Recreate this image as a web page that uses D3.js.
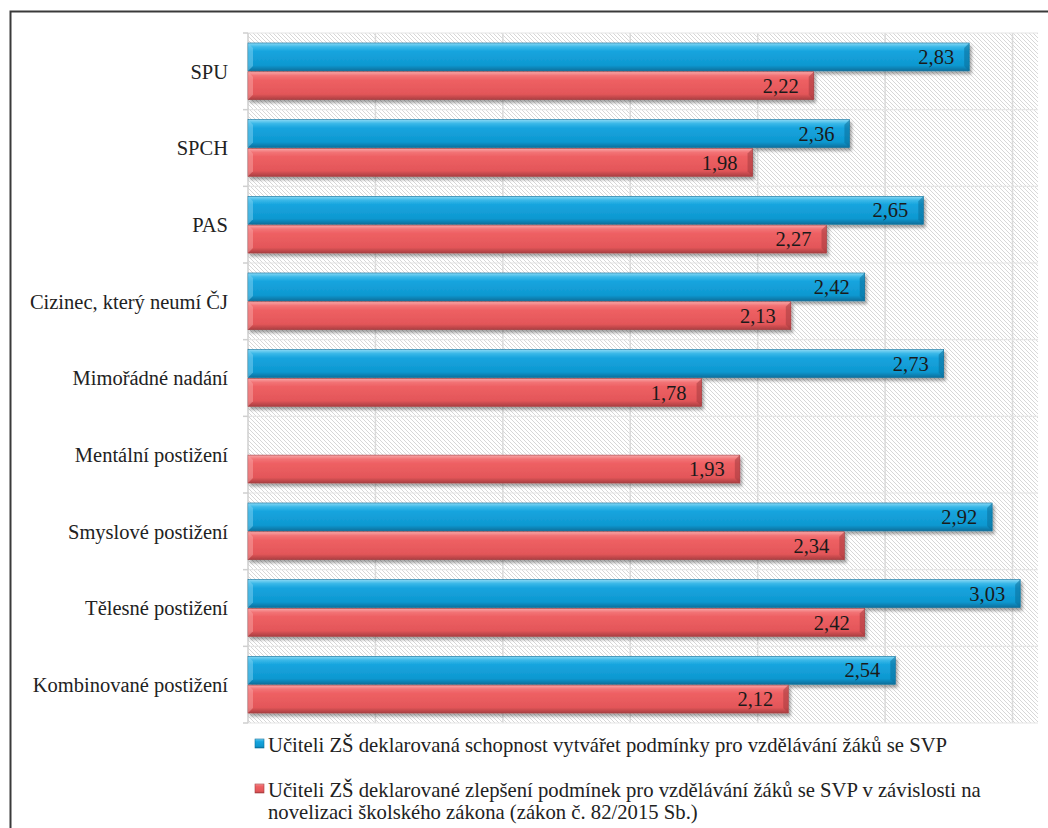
<!DOCTYPE html>
<html>
<head>
<meta charset="utf-8">
<script src="https://cdn.jsdelivr.net/npm/d3@7"></script>
<style>
  body { margin: 0; background: #fff; }
</style>
</head>
<body>
<div id="chart"></div>
<script>
// data
var categories = ["SPU", "SPCH", "PAS", "Cizinec, který neumí ČJ", "Mimořádné nadání",
                  "Mentální postižení", "Smyslové postižení", "Tělesné postižení", "Kombinované postižení"]
var schopnost = [2.83, 2.36, 2.65, 2.42, 2.73, null, 2.92, 3.03, 2.54]
var zlepseni  = [2.22, 1.98, 2.27, 2.13, 1.78, 1.93, 2.34, 2.42, 2.12]
var xTicks = [0, 0.5, 1, 1.5, 2, 2.5, 3]
var seriesNames = ["Učiteli ZŠ deklarovaná schopnost vytvářet podmínky pro vzdělávání žáků se SVP",
                   "Učiteli ZŠ deklarované zlepšení podmínek pro vzdělávání žáků se SVP v závislosti na|novelizaci školského zákona (zákon č. 82/2015 Sb.)"]

var width = 1048, height = 828
var plot = {left: 248, right: 1038, top: 33, bottom: 723}
var serif = "'Liberation Serif'"

var svg = d3.select("#chart").append("svg")
    .attr("width", width)
    .attr("height", height)

var defs = svg.append("defs")

// hatch background
var pat = defs.append("pattern")
    .attr("id", "hatch")
    .attr("patternUnits", "userSpaceOnUse")
    .attr("width", 4).attr("height", 4)
pat.append("rect").attr("width", 4).attr("height", 4).attr("fill", "#fff")
pat.append("path")
    .attr("d", "M-1,-1 L5,5 M-1,3 L1,5 M3,-1 L5,1")
    .attr("stroke", "#d3d3d3").attr("stroke-width", 0.9)

// bar gradients
function grad(id, stops) {
  var g = defs.append("linearGradient").attr("id", id)
      .attr("x1", 0).attr("y1", 0).attr("x2", 0).attr("y2", 1)
  stops.forEach(function(s) {
    g.append("stop").attr("offset", s[0]).attr("stop-color", s[1])
  })
}
grad("gBlue", [[0, "#8ad8f4"], [0.14, "#3ab8e8"], [0.3, "#16a4de"], [0.8, "#0f98d0"], [1, "#0a6f9c"]])
grad("gRed",  [[0, "#f8a7a8"], [0.14, "#f27375"], [0.3, "#ee6063"], [0.8, "#e35659"], [1, "#a93e41"]])

var shadow = defs.append("filter").attr("id", "shadow")
    .attr("x", "-5%").attr("y", "-20%").attr("width", "115%").attr("height", "160%")
shadow.append("feDropShadow")
    .attr("dx", 2).attr("dy", 3).attr("stdDeviation", 1.6)
    .attr("flood-color", "#000").attr("flood-opacity", 0.35)

// outer frame
svg.append("rect")
    .attr("x", 10.5).attr("y", 11.5)
    .attr("width", 1100).attr("height", 900)
    .attr("fill", "none").attr("stroke", "#3a3a3a").attr("stroke-width", 2)

// scales
var x = d3.scaleLinear().domain([0, 3.1]).range([plot.left, plot.right])
var y = d3.scaleBand().domain(categories).range([plot.top, plot.bottom])
    .paddingInner(0.26).paddingOuter(0.13)
var ySub = d3.scaleBand().domain([0, 1]).range([0, y.bandwidth()]).paddingInner(0.03)
var step = y.step()

svg.append("rect")
    .attr("x", plot.left).attr("y", plot.top)
    .attr("width", plot.right - plot.left).attr("height", plot.bottom - plot.top)
    .attr("fill", "url(#hatch)")

// grid lines
svg.selectAll(".vgrid")
    .data(xTicks.slice(1))
    .enter().append("line")
    .attr("class", "vgrid")
    .attr("x1", function(d) { return x(d) }).attr("x2", function(d) { return x(d) })
    .attr("y1", plot.top).attr("y2", plot.bottom)
    .attr("stroke", "#dadada").attr("stroke-width", 1.5)

var bounds = d3.range(categories.length + 1).map(function(i) { return plot.top + i * step })
svg.selectAll(".hgrid")
    .data(bounds)
    .enter().append("line")
    .attr("class", "hgrid")
    .attr("x1", plot.left).attr("x2", plot.right)
    .attr("y1", function(d) { return d }).attr("y2", function(d) { return d })
    .attr("stroke", "#e6e6e6").attr("stroke-width", 1.2)

// ticks on the category axis
svg.selectAll(".tick")
    .data(bounds)
    .enter().append("line")
    .attr("class", "tick")
    .attr("x1", plot.left - 5).attr("x2", plot.left)
    .attr("y1", function(d) { return d }).attr("y2", function(d) { return d })
    .attr("stroke", "#cfcfcf").attr("stroke-width", 1.5)

svg.append("line")
    .attr("x1", plot.left).attr("x2", plot.left)
    .attr("y1", plot.top).attr("y2", plot.bottom)
    .attr("stroke", "#cfcfcf").attr("stroke-width", 1.5)

// category labels
svg.selectAll(".cat")
    .data(categories)
    .enter().append("text")
    .attr("class", "cat")
    .attr("x", 228)
    .attr("y", function(d) { return y(d) + y.bandwidth() / 2 })
    .attr("dy", "0.35em")
    .attr("text-anchor", "end")
    .attr("font-size", 20.5)
    .attr("fill", "#222")
    .style("font-family", serif)
    .text(function(d) { return d })

var fmt = d3.formatLocale({decimal: ",", thousands: " ", grouping: [3], currency: ["", ""]}).format(".2f")

var series = [
  {values: schopnost, fill: "url(#gBlue)", dark: "#0b6f9b", light: "#7fd2f2"},
  {values: zlepseni,  fill: "url(#gRed)",  dark: "#a63d40", light: "#f7a3a4"}
]

series.forEach(function(s, si) {
  var data = categories.map(function(c, i) { return {cat: c, v: s.values[i]} })
      .filter(function(d) { return d.v != null })

  var g = svg.append("g").selectAll("g")
      .data(data)
      .enter().append("g")

  g.append("rect")
      .attr("x", x(0))
      .attr("y", function(d) { return y(d.cat) + ySub(si) })
      .attr("width", function(d) { return x(d.v) - x(0) })
      .attr("height", ySub.bandwidth())
      .attr("fill", s.fill)
      .attr("stroke", s.dark).attr("stroke-width", 0.6)
      .attr("filter", "url(#shadow)")

  // bevel at right end
  g.append("path")
      .attr("d", function(d) {
        var x1 = x(d.v), y0 = y(d.cat) + ySub(si), h = ySub.bandwidth(), b = 5
        return "M" + (x1 - b) + "," + (y0 + b) + "L" + x1 + "," + y0 + "L" + x1 + "," + (y0 + h) +
               "L" + (x1 - b) + "," + (y0 + h - b) + "Z"
      })
      .attr("fill", s.dark).attr("opacity", 0.55)

  // bevel at left end
  g.append("path")
      .attr("d", function(d) {
        var x0 = x(0), y0 = y(d.cat) + ySub(si), h = ySub.bandwidth(), b = 5
        return "M" + x0 + "," + y0 + "L" + (x0 + b) + "," + (y0 + b) + "L" + (x0 + b) + "," + (y0 + h - b) +
               "L" + x0 + "," + (y0 + h) + "Z"
      })
      .attr("fill", s.light).attr("opacity", 0.5)

  g.append("text")
      .attr("x", function(d) { return x(d.v) - 15 })
      .attr("y", function(d) { return y(d.cat) + ySub(si) + ySub.bandwidth() / 2 })
      .attr("dy", "0.35em")
      .attr("text-anchor", "end")
      .attr("font-size", 20.5)
      .attr("fill", "#1a1a1a")
      .style("font-family", serif)
      .text(function(d) { return fmt(d.v) })
})

// legend
var legendBase = [752, 797]
seriesNames.forEach(function(name, i) {
  svg.append("rect")
      .attr("x", 255).attr("y", legendBase[i] - 13)
      .attr("width", 9).attr("height", 9)
      .attr("fill", series[i].fill)
      .attr("stroke", series[i].dark).attr("stroke-width", 0.6)
  var t = svg.append("text")
      .attr("x", 268).attr("y", legendBase[i])
      .attr("font-size", 20.7)
      .attr("fill", "#222")
      .style("font-family", serif)
  name.split("|").forEach(function(line, j) {
    t.append("tspan").attr("x", 268).attr("dy", j == 0 ? 0 : 22).text(line)
  })
})
</script>
</body>
</html>
